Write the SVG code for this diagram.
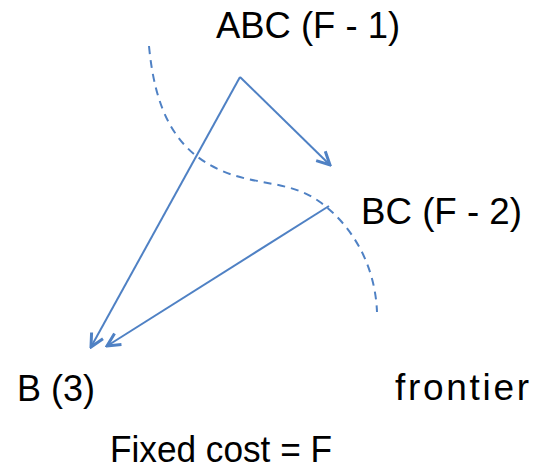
<svg xmlns="http://www.w3.org/2000/svg" width="543" height="470" viewBox="0 0 543 470">
<style>
text{font-family:"Liberation Sans",Arial,sans-serif;font-size:37px;fill:#000}
.c{stroke:#4f81c4;stroke-width:2;fill:none}
.d{stroke:#4f81c4;stroke-width:2;fill:none;stroke-dasharray:8 6}
</style>
<defs>
<marker id="a" viewBox="0 0 16 16" refX="14" refY="8" markerWidth="16" markerHeight="16" markerUnits="userSpaceOnUse" orient="auto">
<polyline points="1,1.5 14,8 1,14.5" fill="none" stroke="#4f81c4" stroke-width="3"/>
</marker>
</defs>
<rect width="543" height="470" fill="#fff"/>
<g id="frontier-curve">
<path class="d" d="M149,46 C155,110 175,150 220,170 C255,186 290,180 320,202 C350,224 375,262 377,312"/>
</g>
<g id="connectors">
<line class="c" x1="240" y1="77" x2="330" y2="165" marker-end="url(#a)"/>
<line class="c" x1="240" y1="77" x2="91" y2="347" marker-end="url(#a)"/>
<line class="c" x1="329" y1="206" x2="107" y2="346" marker-end="url(#a)"/>
</g>
<g id="node-abc"><text x="216" y="38" textLength="184" lengthAdjust="spacingAndGlyphs">ABC (F - 1)</text></g>
<g id="node-bc"><text x="361" y="224" textLength="161" lengthAdjust="spacingAndGlyphs">BC (F - 2)</text></g>
<g id="node-b"><text x="17" y="401" textLength="78" lengthAdjust="spacingAndGlyphs">B (3)</text></g>
<g id="label-frontier"><text x="395" y="400" textLength="134" lengthAdjust="spacing">frontier</text></g>
<g id="label-cost"><text x="110" y="462" textLength="222" lengthAdjust="spacingAndGlyphs">Fixed cost = F</text></g>
</svg>
